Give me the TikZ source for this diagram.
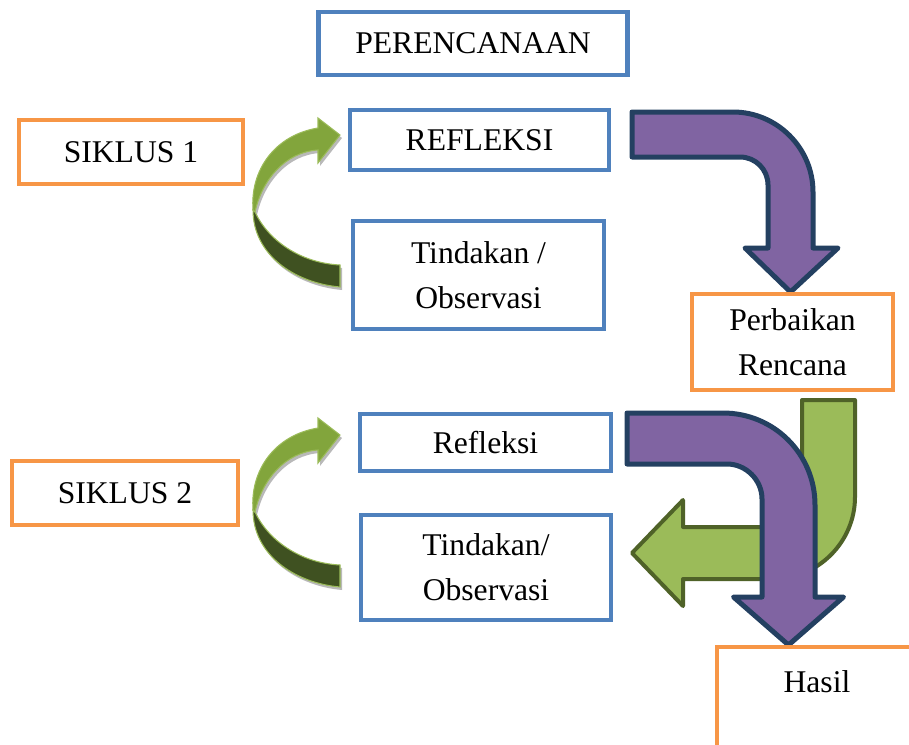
\documentclass[tikz,border=0pt]{standalone}
\usepackage{fontspec}
\setmainfont{Liberation Serif}
\usetikzlibrary{backgrounds}

\definecolor{boxblue}{RGB}{79,129,189}
\definecolor{boxorange}{RGB}{247,150,70}
\definecolor{arrowpurple}{RGB}{128,100,162}
\definecolor{purpleline}{RGB}{36,64,97}
\definecolor{bentgreen}{RGB}{155,187,89}
\definecolor{greenline}{RGB}{79,98,40}
\definecolor{curvelight}{RGB}{130,165,60}
\definecolor{curvedark}{RGB}{63,81,33}

\def\unit{0.02}

\tikzset{
  box/.style={fill=white, line width=0.09cm, inner sep=0pt, outer sep=0pt,
    align=center, font=\fontsize{18}{25.6}\selectfont},
  bluebox/.style={box, draw=boxblue},
  orangebox/.style={box, draw=boxorange},
  purplearrow/.style={fill=arrowpurple, draw=purpleline, line width=0.1cm, line join=round},
  greenarrow/.style={fill=bentgreen, draw=greenline, line width=0.08cm, line join=round},
}

\begin{document}
\begin{tikzpicture}[x=\unit cm, y=-\unit cm]
      \clip (0,0) rectangle (909,744);
      % boxes
      \node[bluebox, minimum width=6.18cm, minimum height=1.26cm] (perencanaan) at (473,43.5) {PERENCANAAN};
      \node[orangebox, minimum width=4.48cm, minimum height=1.28cm] (siklus1) at (131,152) {SIKLUS 1};
      \node[bluebox, minimum width=5.18cm, minimum height=1.2cm] (refleksi1) at (479.5,140) {REFLEKSI};
      \node[bluebox, minimum width=5.02cm, minimum height=2.16cm] (tindakan1) at (478.5,275) {Tindakan /\\Observasi};
      \node[orangebox, minimum width=4.02cm, minimum height=1.92cm] (perbaikan) at (792.5,342) {Perbaikan\\Rencana};
      \node[bluebox, minimum width=5.02cm, minimum height=1.14cm] (refleksi2) at (485.5,442.5) {Refleksi};
      \node[orangebox, minimum width=4.52cm, minimum height=1.28cm] (siklus2) at (125,493) {SIKLUS 2};
      \node[bluebox, minimum width=5cm, minimum height=2.1cm] (tindakan2) at (486,567.5) {Tindakan/\\Observasi};
      \node[orangebox, anchor=north west, minimum width=4cm, text height=0.9cm, text depth=1.1cm] (hasil) at (717,647) {Hasil};

      % curved arrows, siklus 1 and 2
      \foreach \dy in {0,300} {
        \begin{scope}[shift={(0,\dy)}]
          \fill[gray!55, shift={(2,3)}] (253,210) .. controls (250,170) and (275,135) .. (318,128) -- (318,118) -- (340,135) -- (318,163) -- (318,150)
            .. controls (285,152) and (262,180) .. (255,212) .. controls (268,240) and (300,263) .. (340,265) -- (340,287)
            .. controls (295,283) and (253,255) .. (253,210) -- cycle;
          \draw[fill=curvedark, draw=bentgreen, line width=0.6pt] (253,210) .. controls (253,255) and (295,283) .. (340,287) -- (340,265)
            .. controls (300,263) and (268,240) .. (255,212) -- cycle;
          \draw[fill=curvelight, draw=bentgreen, line width=0.6pt] (253,210) .. controls (250,170) and (275,135) .. (318,128) -- (318,118) -- (340,135)
            -- (318,163) -- (318,150) .. controls (285,152) and (262,180) .. (255,212) -- cycle;
        \end{scope}
      }

      \begin{scope}[on background layer]
        % refleksi -> perbaikan rencana
        \draw[purplearrow] (632,112) -- (733,112) .. controls (777,112) and (813,148) .. (813,192) -- (813,248) -- (838,248) -- (790.5,292)
          -- (745,248) -- (768,248) -- (768,185) .. controls (768,169.5) and (755.5,157) .. (740,157) -- (632,157) -- cycle;
        % perbaikan rencana -> tindakan
        \draw[greenarrow] (802,400) -- (855,400) -- (855,497) .. controls (855,542) and (818,579) .. (773,579) -- (683,579) -- (683,606)
          -- (632,553) -- (683,500) -- (683,527) -- (772,527) .. controls (788.5,527) and (802,513.5) .. (802,497) -- cycle;
        % refleksi -> hasil
        \draw[purplearrow] (627,413) -- (723,413) .. controls (774,413) and (815,454) .. (815,505) -- (815,597) -- (843.5,597) -- (788.5,645)
          -- (733.5,597) -- (762,597) -- (762,499) .. controls (762,480) and (746,464) .. (727,464) -- (627,464) -- cycle;
      \end{scope}
    \end{tikzpicture}
\end{document}
